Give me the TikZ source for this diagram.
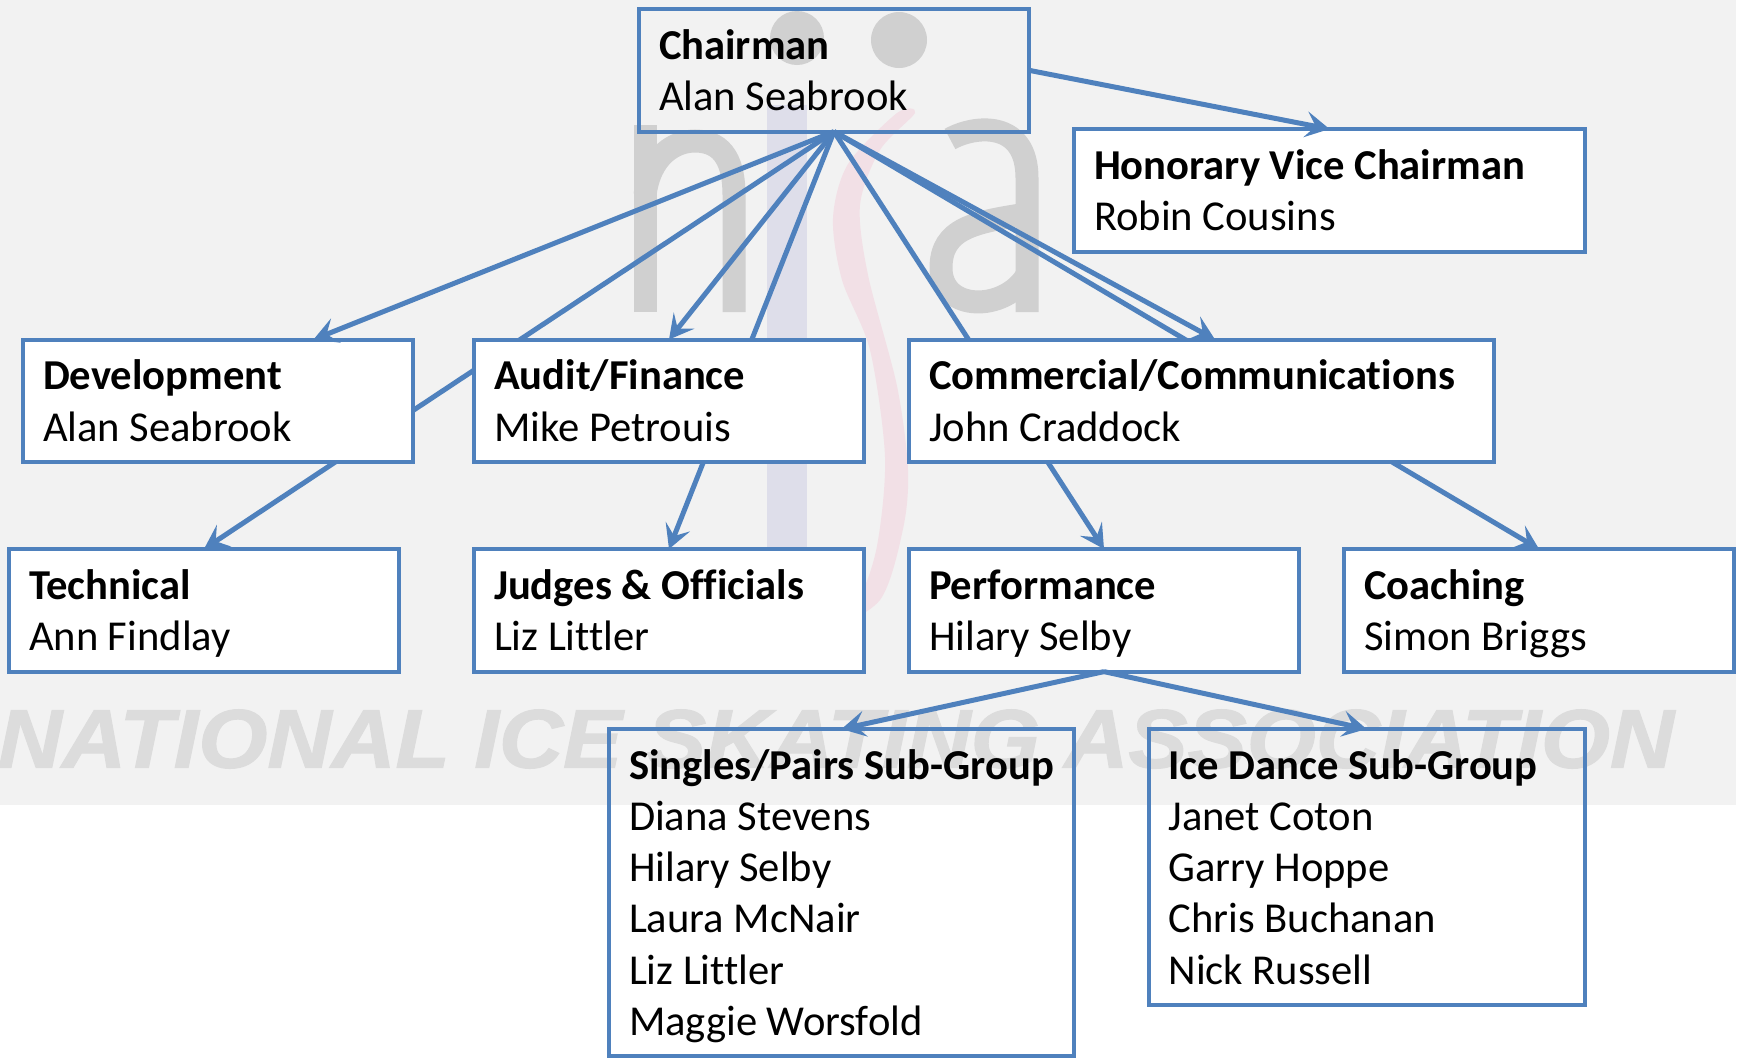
\documentclass[tikz,border=0pt]{standalone}
\usepackage{fontspec}
\usepackage{graphicx}
\setmainfont[Ligatures=NoCommon]{Carlito}
\newfontfamily\wmfont[FakeBold=1.5]{Liberation Sans}
\usetikzlibrary{arrows.meta}
\definecolor{bl}{HTML}{4F81BD}
\definecolor{bggrey}{HTML}{F2F2F2}
\definecolor{wmgrey}{HTML}{D0D0D0}
\definecolor{wmtext}{HTML}{DCDCDC}
\definecolor{wmblue}{HTML}{DEDEEA}
\definecolor{wmpink}{HTML}{F2E0E6}
\newcommand{\bxstrut}{\rule[-5.4pt]{0pt}{25.4pt}}
\newcommand{\tl}[1]{\spaceskip=.226em\relax\textbf{#1}\bxstrut}
\newcommand{\nl}[1]{\\\spaceskip=.226em\relax #1\bxstrut}
\tikzset{
  x=0.5pt,y=-0.5pt,
  box/.style={draw=bl,line width=2pt,rectangle,anchor=north west,outer sep=0pt,
    inner xsep=10pt,inner ysep=5.15pt,align=left,text=black,
    font=\fontsize{21.3}{25.6}\selectfont},
  wbox/.style={box,fill=white},
  small/.style={text width=175pt},
  conn/.style={draw=bl,line width=2.5pt},
  arr/.style={conn,-{Stealth[length=12pt,width=13pt,inset=5pt]}},
  wm/.style={draw=wmgrey,line width=11.5pt}
}
\begin{document}
\begin{tikzpicture}
\useasboundingbox (0,0) rectangle (1740,1057);
\fill[white] (0,0) rectangle (1740,1057);
% background and watermark
\fill[bggrey] (0,0) rectangle (1736,805);
\fill[wmblue] (767,105) rectangle (807,600);
\fill[wmpink] plot[smooth cycle] coordinates {(897,113) (848,164) (833,218) (842,280) (870,350) (885,457) (877,546) (858,600) (825,632) (880,600) (903,529) (908,470) (897,386) (868,275) (860,205) (880,150) (915,113)};
\draw[wm] (645,312) -- (645,125);
\draw[wm] (645,195) .. controls (650,155) and (675,141) .. (695,141) .. controls (725,141) and (734,165) .. (734,195) -- (734,312);
\draw[wm] (950,139) .. controls (975,125) and (1027,120) .. (1027,178) -- (1027,312);
\draw[wm] (1027,214) .. controls (975,222) and (941,228) .. (941,268) .. controls (941,312) and (1005,312) .. (1027,275);
\fill[wmgrey] (797,38) circle (27);
\fill[wmgrey] (899,40) circle (28);
\node[anchor=center,inner sep=0pt,text=wmtext] (wmt) at (836,739) {\resizebox{838pt}{29pt}{\wmfont\bfseries\itshape NATIONAL ICE SKATING ASSOCIATION}};
% lower boxes
\node[wbox,small] (tech) at (9,549) {\tl{Technical}\nl{Ann Findlay}};
\node[wbox,small] (judges) at (474,549) {\tl{Judges \& Officials}\nl{Liz Littler}};
\node[wbox,small] (perf) at (909,549) {\tl{Performance}\nl{Hilary Selby}};
\node[wbox,small] (coach) at (1344,549) {\tl{Coaching}\nl{Simon Briggs}};
\node[wbox,text width=235.5pt] (hon) at (1074,129) {\tl{Honorary Vice Chairman}\nl{Robin Cousins}};
\node[box,text width=212.5pt] (sing) at (609,729) {\tl{Singles/Pairs Sub-Group}\nl{Diana Stevens}\nl{Hilary Selby}\nl{Laura McNair}\nl{Liz Littler}\nl{Maggie Worsfold}};
\node[box,text width=198pt] (ice) at (1148.5,729) {\tl{Ice Dance Sub-Group}\nl{Janet Coton}\nl{Garry Hoppe}\nl{Chris Buchanan}\nl{Nick Russell}};
\node[box,small] (chair) at (639,9) {\tl{Chairman}\nl{Alan Seabrook}};
% connectors that run behind the middle row
\draw[arr] (chair.south) -- (tech.north);
\draw[arr] (chair.south) -- (judges.north);
\draw[arr] (chair.south) -- (perf.north);
\draw[arr] (chair.south) -- (coach.north);
\draw[arr] (chair.east) -- (hon.north);
\draw[arr] (perf.south) -- (sing.north);
\draw[arr] (perf.south) -- (ice.north);
% middle row
\node[wbox,small] (dev) at (23,339.5) {\tl{Development}\nl{Alan Seabrook}};
\node[wbox,small] (audit) at (474,339.5) {\tl{Audit/Finance}\nl{Mike Petrouis}};
\node[wbox,text width=272.5pt] (comm) at (909,339.5) {\tl{Commercial/Communications}\nl{John Craddock}};
\draw[arr] (chair.south) -- ([xshift=47.75pt]dev.north);
\draw[arr] (chair.south) -- (audit.north);
\draw[arr] (chair.south) -- ([xshift=6.75pt]comm.north);
\end{tikzpicture}
\end{document}
